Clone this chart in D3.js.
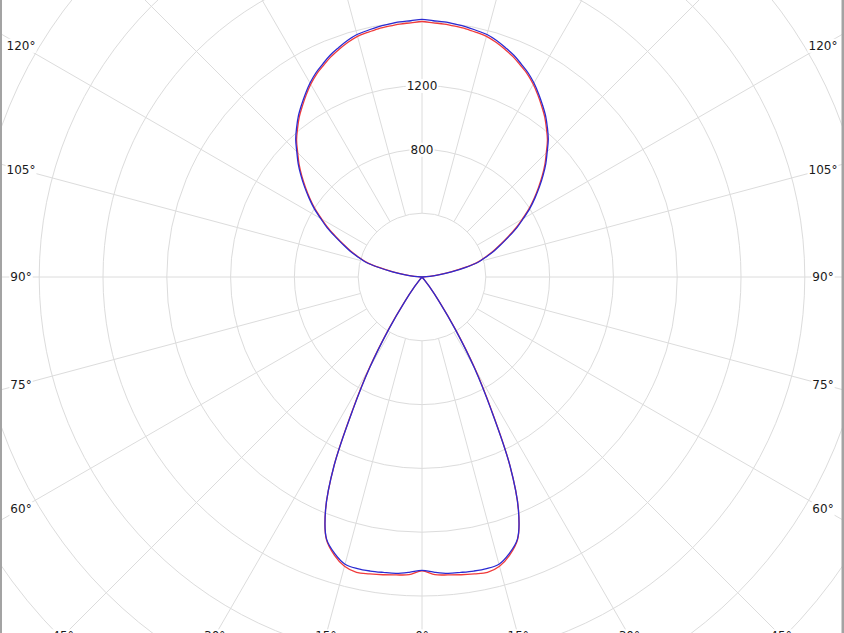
<!DOCTYPE html>
<html>
<head>
<meta charset="utf-8">
<script src="https://cdn.jsdelivr.net/npm/d3@7"></script>
<style>
  html, body { margin: 0; padding: 0; background: #fff; overflow: hidden; }
  svg { display: block; }
</style>
</head>
<body>
<script>
const w = 844;
const h = 633;
const cx = 422;
const cy = 277;

// gamma angles (0 = straight down), degrees
const angles = [0, 2.5, 5, 7.5, 10, 12.5, 15, 17.5, 20, 22.5, 25, 27.5, 30, 32.5, 35, 37.5, 40,
  42.5, 45, 47.5, 50, 52.5, 55, 57.5, 60, 62.5, 65, 67.5, 70, 72.5, 75, 77.5, 80, 82.5, 85, 87.5, 90, 92.5,
  95, 97.5, 100, 102.5, 105, 107.5, 110, 112.5, 115, 117.5, 120, 122.5, 125, 127.5, 130, 132.5,
  135, 137.5, 140, 142.5, 145, 147.5, 150, 152.5, 155, 157.5, 160, 162.5, 165, 167.5, 170, 172.5,
  175, 177.5, 180];

// luminous intensity, cd
const redValues = [1843, 1868, 1875, 1883, 1890, 1897, 1878, 1828, 1752, 1580, 1304, 947, 665, 395, 194, 75, 25,
  0, 0, 0, 0, 0, 0, 0, 0, 0, 0, 0, 0, 0, 0, 0, 0, 0, 0, 0, 0, 0,
  48, 110, 184, 276, 362, 418, 476, 532, 594, 662, 726, 795, 858, 920, 983, 1045,
  1102, 1164, 1214, 1264, 1308, 1352, 1395, 1433, 1463, 1494, 1519, 1543, 1562, 1571, 1580, 1586,
  1592, 1595, 1602];

const blueValues = [1839, 1853, 1865, 1868, 1872, 1873, 1864, 1818, 1749, 1580, 1304, 941, 652, 382, 188, 75, 25,
  0, 0, 0, 0, 0, 0, 0, 0, 0, 0, 0, 0, 0, 0, 0, 0, 0, 0, 0, 0, 0,
  50, 113, 188, 282, 370, 424, 483, 539, 602, 671, 734, 803, 865, 928, 991, 1053,
  1110, 1172, 1223, 1273, 1317, 1361, 1404, 1442, 1473, 1505, 1530, 1555, 1574, 1583, 1593, 1599,
  1605, 1608, 1615];

const ringValues = [400, 800, 1200, 1600, 2000, 2400, 2800, 3200, 3600, 4000];
const ringLabels = [800, 1200];
const gridAngles = [0, 15, 30, 45, 60, 75, 90, 105, 120, 135, 150, 165, 180];

const rScale = d3.scaleLinear().domain([0, 400]).range([0, 63.8]);

// label frame where the rays get their angle labels
const frame = { left: 21, right: 823, top: -82, bottom: 636 };

const svg = d3.select("body")
  .append("svg")
  .attr("width", w)
  .attr("height", h);

const g = svg.append("g")
  .attr("transform", "translate(" + cx + "," + cy + ")");

const gridColor = "#dcdcdc";

// rings
g.selectAll("circle.ring")
  .data(ringValues)
  .enter()
  .append("circle")
  .attr("class", "ring")
  .attr("r", d => rScale(d))
  .attr("fill", "none")
  .attr("stroke", gridColor)
  .attr("stroke-width", 1);

// rays on both sides (sides: +1 right, -1 left)
const rays = [];
gridAngles.forEach(a => {
  rays.push({ a: a, side: 1 });
  if (a !== 0 && a !== 180) rays.push({ a: a, side: -1 });
});

const toXY = (deg, side, r) => {
  const t = deg * Math.PI / 180;
  return [side * r * Math.sin(t), r * Math.cos(t)];
};

g.selectAll("line.ray")
  .data(rays)
  .enter()
  .append("line")
  .attr("class", "ray")
  .attr("x1", d => toXY(d.a, d.side, rScale(400))[0])
  .attr("y1", d => toXY(d.a, d.side, rScale(400))[1])
  .attr("x2", d => toXY(d.a, d.side, 1200)[0])
  .attr("y2", d => toXY(d.a, d.side, 1200)[1])
  .attr("stroke", gridColor)
  .attr("stroke-width", 1);

// curves
const pathPoints = values => {
  const pts = [];
  angles.forEach((a, i) => pts.push([Math.PI - a * Math.PI / 180, rScale(values[i])]));
  for (let i = angles.length - 2; i > 0; i--) {
    pts.push([Math.PI + angles[i] * Math.PI / 180, rScale(values[i])]);
  }
  return pts;
};

const radial = d3.lineRadial()
  .angle(d => d[0])
  .radius(d => d[1])
  .curve(d3.curveCatmullRomClosed.alpha(0.5));

g.append("path")
  .attr("d", radial(pathPoints(redValues)))
  .attr("fill", "none")
  .attr("stroke", "#f03a3a")
  .attr("stroke-width", 1.3);

g.append("path")
  .attr("d", radial(pathPoints(blueValues)))
  .attr("fill", "none")
  .attr("stroke", "#2b2bd2")
  .attr("stroke-width", 1.3);

// labels with white backing
const font = "DejaVu Sans, Verdana, sans-serif";

const addLabel = (x, y, txt) => {
  const lg = svg.append("g").attr("transform", "translate(" + x + "," + y + ")");
  const t = lg.append("text")
    .attr("text-anchor", "middle")
    .attr("dy", "0.36em")
    .attr("font-family", font)
    .attr("font-size", 12)
    .attr("fill", "#1a1a1a")
    .text(txt);
  const bb = t.node().getBBox();
  lg.insert("rect", "text")
    .attr("x", bb.x - 1)
    .attr("y", bb.y)
    .attr("width", bb.width + 2)
    .attr("height", bb.height)
    .attr("fill", "#fff");
};

ringLabels.forEach(v => addLabel(cx, cy - rScale(v), String(v)));

rays.forEach(d => {
  const t = d.a * Math.PI / 180;
  const dx = d.side * Math.sin(t);
  const dy = Math.cos(t);
  let k = Infinity;
  if (dx > 1e-9) k = Math.min(k, (frame.right - cx) / dx);
  if (dx < -1e-9) k = Math.min(k, (frame.left - cx) / dx);
  if (dy > 1e-9) k = Math.min(k, (frame.bottom - cy) / dy);
  if (dy < -1e-9) k = Math.min(k, (frame.top - cy) / dy);
  addLabel(cx + k * dx, cy + k * dy, d.a + "°");
});

// side borders of the chart box
svg.append("rect").attr("x", 0).attr("y", 0).attr("width", 2).attr("height", h).attr("fill", "#a3a3a3");
svg.append("rect").attr("x", 841.5).attr("y", 0).attr("width", 2.5).attr("height", h).attr("fill", "#a3a3a3");
</script>
</body>
</html>
